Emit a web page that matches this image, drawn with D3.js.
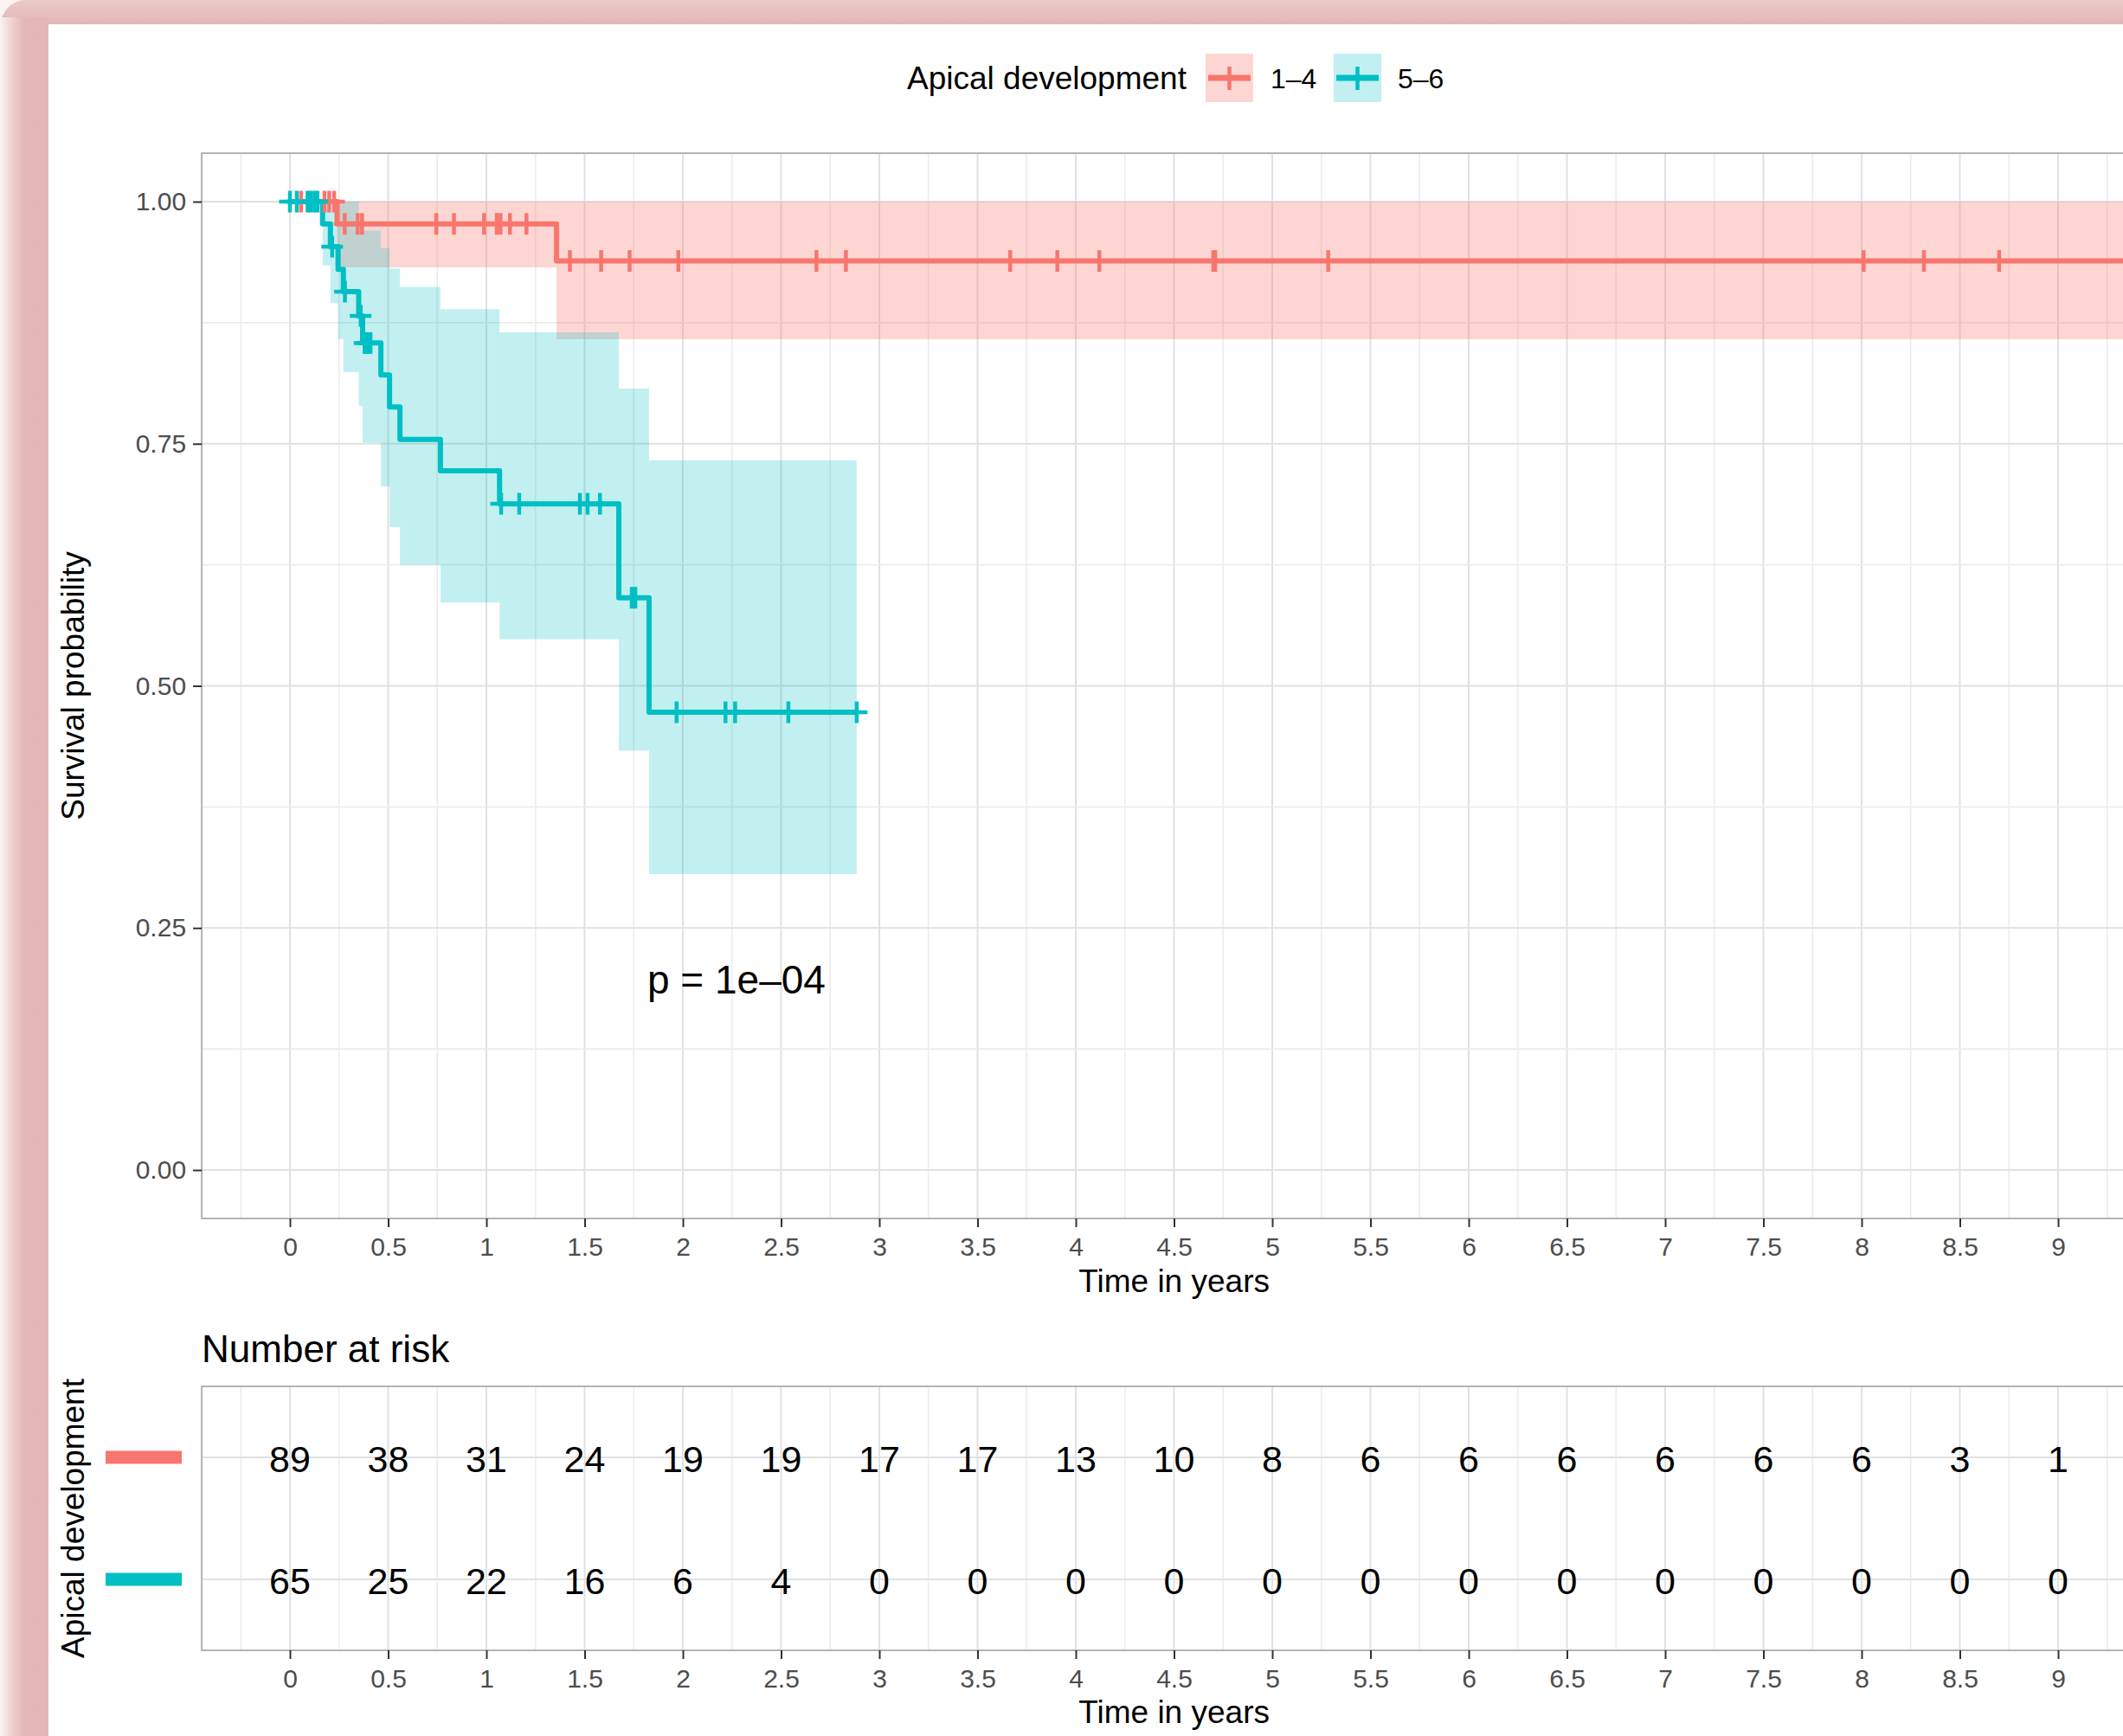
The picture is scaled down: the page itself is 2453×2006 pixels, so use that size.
<!DOCTYPE html>
<html>
<head>
<meta charset="utf-8">
<script src="https://cdn.jsdelivr.net/npm/d3@7"></script>
<style>
  html, body { margin: 0; padding: 0; background: #ffffff; overflow: hidden; }
  svg { display: block; }
  text { font-family: "Liberation Sans", Arial, Helvetica, sans-serif; }
</style>
</head>
<body>
<svg id="chart" width="2453" height="2006"></svg>
<script>
// ---------------- DATA ----------------
const groupLabels = ["1–4", "5–6"];
const groupColors = ["#F8766D", "#00BFC4"];
const legendTitle = "Apical development";
const pValueText = "p = 1e–04";

const timeBreaks = [0, 0.5, 1, 1.5, 2, 2.5, 3, 3.5, 4, 4.5, 5, 5.5, 6, 6.5, 7, 7.5, 8, 8.5, 9];
const timeLabels = ["0", "0.5", "1", "1.5", "2", "2.5", "3", "3.5", "4", "4.5", "5", "5.5", "6", "6.5", "7", "7.5", "8", "8.5", "9"];
const survTicks = [0, 0.25, 0.5, 0.75, 1];
const survLabels = ["0.00", "0.25", "0.50", "0.75", "1.00"];

// Group 1–4 (red)
const redEventTimes = [0.24, 1.357];
const redSurv       = [0.977, 0.9387];
const redLower      = [0.932, 0.858];
const redUpper      = [1.0, 1.0];
const redEndTime    = 9.45;
const redCensorTimes = [0.057, 0.176, 0.2, 0.225,
  0.279, 0.345, 0.367, 0.745, 0.835, 0.988, 1.053, 1.072, 1.12, 1.204,
  1.425, 1.584, 1.729, 1.977, 2.68, 2.83, 3.666, 3.906, 4.12, 4.70, 4.71, 5.285, 8.01, 8.317, 8.70];

// Group 5–6 (teal)
const tealEventTimes = [0.166, 0.206, 0.245, 0.272, 0.35, 0.37, 0.463, 0.507, 0.56, 0.766, 1.067, 1.674, 1.828];
const tealSurv       = [0.977, 0.9535, 0.930, 0.907, 0.882, 0.854, 0.821, 0.788, 0.7545, 0.722, 0.688, 0.591, 0.4727];
const tealLower      = [0.934, 0.895, 0.858, 0.824, 0.789, 0.751, 0.706, 0.664, 0.625, 0.586, 0.548, 0.433, 0.3056];
const tealUpper      = [1, 1, 1, 1, 0.97, 0.97, 0.952, 0.931, 0.912, 0.889, 0.865, 0.807, 0.733];
const tealEndTime    = 2.885;
const tealCensorTimes = [0, 0.035, 0.09, 0.105, 0.125, 0.14, 0.215, 0.28, 0.36, 0.38, 0.395, 0.41,
  1.075, 1.167, 1.476, 1.515, 1.578, 1.74, 1.758, 1.968, 2.217, 2.266, 2.537, 2.885];

// Number at risk
const riskRed  = [89, 38, 31, 24, 19, 19, 17, 17, 13, 10, 8, 6, 6, 6, 6, 6, 6, 3, 1];
const riskTeal = [65, 25, 22, 16, 6, 4, 0, 0, 0, 0, 0, 0, 0, 0, 0, 0, 0, 0, 0];

// ---------------- BUILD ----------------
const svg = d3.select("#chart");
const W = 2453, H = 2006;
const FONT = '"Liberation Sans", Arial, Helvetica, sans-serif';
const fillOpacity = [0.3, 0.24];

const defs = svg.append("defs");
// background frame (screenshot edge)
const gL = defs.append("linearGradient").attr("id", "gl").attr("x1", 0).attr("x2", 1).attr("y1", 0).attr("y2", 0);
gL.append("stop").attr("offset", "0%").attr("stop-color", "#fbf3f3");
gL.append("stop").attr("offset", "30%").attr("stop-color", "#eacaca");
gL.append("stop").attr("offset", "50%").attr("stop-color", "#e4b8b8");
gL.append("stop").attr("offset", "100%").attr("stop-color", "#e3b6b6");
const gT = defs.append("linearGradient").attr("id", "gt").attr("x1", 0).attr("x2", 0).attr("y1", 0).attr("y2", 1);
gT.append("stop").attr("offset", "0%").attr("stop-color", "#ebcaca");
gT.append("stop").attr("offset", "100%").attr("stop-color", "#e3b5b5");

svg.append("rect").attr("width", W).attr("height", H).attr("fill", "#ffffff");
svg.append("rect").attr("x", 0).attr("y", 0).attr("width", W).attr("height", 28).attr("fill", "url(#gt)");
svg.append("rect").attr("x", 0).attr("y", 20).attr("width", 56).attr("height", H - 20).attr("fill", "url(#gl)");
svg.append("path").attr("d", "M0,0 L26,0 Q6,4 0,26 Z").attr("fill", "#fbf3f3");

// scales
const x = d3.scaleLinear().domain([0, 9]).range([335, 2378]);
const panelL = x(-0.449), panelR = x(9.45);
const y = d3.scaleLinear().domain([0, 1]).range([1352, 233]);
const mainTop = y(1.05), mainBot = y(-0.05);

defs.append("clipPath").attr("id", "clipMain").append("rect")
  .attr("x", panelL).attr("y", mainTop).attr("width", panelR - panelL).attr("height", mainBot - mainTop);

const majorX = d3.range(0, 9.51, 0.5);
const minorX = d3.range(-0.25, 9.5, 0.5);

function vGrid(g, top, bot) {
  g.selectAll(".vmin").data(minorX).join("line")
    .attr("x1", d => x(d)).attr("x2", d => x(d)).attr("y1", top).attr("y2", bot)
    .attr("stroke", "#ececec").attr("stroke-width", 1.6);
  g.selectAll(".vmaj").data(majorX).join("line").attr("class", "vmaj")
    .attr("x1", d => x(d)).attr("x2", d => x(d)).attr("y1", top).attr("y2", bot)
    .attr("stroke", "#e1e1e1").attr("stroke-width", 2);
}

// ---------- main panel ----------
const main = svg.append("g");
const grid = main.append("g").attr("clip-path", "url(#clipMain)");
vGrid(grid, mainTop, mainBot);
grid.selectAll(".hmin").data([0.125, 0.375, 0.625, 0.875]).join("line").attr("class", "hmin")
  .attr("x1", panelL).attr("x2", panelR).attr("y1", d => y(d)).attr("y2", d => y(d))
  .attr("stroke", "#ececec").attr("stroke-width", 1.6);
grid.selectAll(".hmaj").data(survTicks).join("line").attr("class", "hmaj")
  .attr("x1", panelL).attr("x2", panelR).attr("y1", d => y(d)).attr("y2", d => y(d))
  .attr("stroke", "#e1e1e1").attr("stroke-width", 2);

function buildSeries(times, surv, lo, hi, endT) {
  const pts = [{t: 0, s: 1, lo: 1, hi: 1}];
  times.forEach((t, i) => pts.push({t, s: surv[i], lo: lo[i], hi: hi[i]}));
  const last = pts[pts.length - 1];
  pts.push({t: endT, s: last.s, lo: last.lo, hi: last.hi});
  return pts;
}
function survAt(pts, t) {
  let s = 1;
  for (const p of pts) { if (p.t <= t) s = p.s; }
  return s;
}

const series = [
  {pts: buildSeries(redEventTimes, redSurv, redLower, redUpper, redEndTime), cens: redCensorTimes, color: groupColors[0], op: fillOpacity[0]},
  {pts: buildSeries(tealEventTimes, tealSurv, tealLower, tealUpper, tealEndTime), cens: tealCensorTimes, color: groupColors[1], op: fillOpacity[1]}
];

const plotG = main.append("g").attr("clip-path", "url(#clipMain)");
const area = d3.area().curve(d3.curveStepAfter).x(d => x(d.t)).y0(d => y(d.lo)).y1(d => y(d.hi));
const line = d3.line().curve(d3.curveStepAfter).x(d => x(d.t)).y(d => y(d.s));

series.forEach(sr => {
  plotG.append("path").datum(sr.pts).attr("d", area)
    .attr("fill", sr.color).attr("fill-opacity", sr.op).attr("stroke", "none");
});
series.forEach(sr => {
  plotG.append("path").datum(sr.pts).attr("d", line)
    .attr("fill", "none").attr("stroke", sr.color).attr("stroke-width", 6).attr("stroke-linejoin", "round");
});
series.forEach(sr => {
  const cg = plotG.append("g");
  sr.cens.forEach(t => {
    const cx = x(t), cy = y(survAt(sr.pts, t));
    cg.append("line").attr("x1", cx - 12.5).attr("x2", cx + 12.5).attr("y1", cy).attr("y2", cy)
      .attr("stroke", sr.color).attr("stroke-width", 4.5);
    cg.append("line").attr("x1", cx).attr("x2", cx).attr("y1", cy - 12.5).attr("y2", cy + 12.5)
      .attr("stroke", sr.color).attr("stroke-width", 4.5);
  });
});

// p value
main.append("text").attr("x", 748).attr("y", 1148).attr("font-size", 46).attr("fill", "#000")
  .text(pValueText);

// border
main.append("rect").attr("x", panelL).attr("y", mainTop).attr("width", panelR - panelL).attr("height", mainBot - mainTop)
  .attr("fill", "none").attr("stroke", "#b3b3b3").attr("stroke-width", 2);

// axes
function styleAxis(g, size) {
  g.select(".domain").remove();
  g.selectAll(".tick line").attr("stroke", "#333333").attr("stroke-width", 2);
  g.selectAll(".tick text").attr("font-size", size).attr("fill", "#4d4d4d").attr("font-family", FONT);
}
const xAxis = d3.axisBottom(x).tickValues(timeBreaks).tickFormat((d, i) => timeLabels[i]).tickSize(10).tickPadding(11.5);
styleAxis(main.append("g").attr("transform", `translate(0,${mainBot})`).call(xAxis), 30);
const yAxis = d3.axisLeft(y).tickValues(survTicks).tickFormat((d, i) => survLabels[i]).tickSize(10).tickPadding(8);
styleAxis(main.append("g").attr("transform", `translate(${panelL},0)`).call(yAxis), 30);

main.append("text").attr("x", (panelL + panelR) / 2).attr("y", 1493).attr("text-anchor", "middle")
  .attr("font-size", 37).attr("fill", "#000").text("Time in years");
main.append("text").attr("transform", `translate(97,${(mainTop + mainBot) / 2}) rotate(-90)`)
  .attr("text-anchor", "middle").attr("font-size", 37).attr("fill", "#000").text("Survival probability");

// legend
const leg = svg.append("g");
leg.append("text").attr("x", 1048).attr("y", 103).attr("font-size", 37).attr("fill", "#000").text(legendTitle);
const legX = [1393, 1541], legLabX = [1468, 1615];
groupLabels.forEach((lab, i) => {
  leg.append("rect").attr("x", legX[i]).attr("y", 62).attr("width", 55).attr("height", 56)
    .attr("fill", groupColors[i]).attr("fill-opacity", fillOpacity[i]);
  leg.append("line").attr("x1", legX[i] + 3).attr("x2", legX[i] + 52).attr("y1", 90).attr("y2", 90)
    .attr("stroke", groupColors[i]).attr("stroke-width", 7);
  leg.append("line").attr("x1", legX[i] + 27.5).attr("x2", legX[i] + 27.5).attr("y1", 77).attr("y2", 104)
    .attr("stroke", groupColors[i]).attr("stroke-width", 4.5);
  leg.append("text").attr("x", legLabX[i]).attr("y", 101.5).attr("font-size", 32).attr("fill", "#000").text(lab);
});

// ---------- risk table ----------
const tTop = 1602, tBot = 1907;
const rowY = d3.scalePoint().domain(groupLabels).range([1684, 1825]);
defs.append("clipPath").attr("id", "clipTab").append("rect")
  .attr("x", panelL).attr("y", tTop).attr("width", panelR - panelL).attr("height", tBot - tTop);
const tab = svg.append("g");
const tgrid = tab.append("g").attr("clip-path", "url(#clipTab)");
vGrid(tgrid, tTop, tBot);
tgrid.selectAll(".hrow").data(groupLabels).join("line")
  .attr("x1", panelL).attr("x2", panelR).attr("y1", d => rowY(d)).attr("y2", d => rowY(d))
  .attr("stroke", "#e1e1e1").attr("stroke-width", 2);

const riskRows = [riskRed, riskTeal];
riskRows.forEach((row, gi) => {
  tab.append("g").selectAll("text").data(row).join("text")
    .attr("x", (d, i) => x(timeBreaks[i])).attr("y", rowY(groupLabels[gi]) + 17)
    .attr("text-anchor", "middle").attr("font-size", 43).attr("fill", "#000").text(d => d);
  tab.append("rect").attr("x", 122).attr("y", rowY(groupLabels[gi]) - 7.5).attr("width", 88).attr("height", 15)
    .attr("fill", groupColors[gi]);
});
tab.append("rect").attr("x", panelL).attr("y", tTop).attr("width", panelR - panelL).attr("height", tBot - tTop)
  .attr("fill", "none").attr("stroke", "#b3b3b3").attr("stroke-width", 2);
styleAxis(tab.append("g").attr("transform", `translate(0,${tBot})`).call(xAxis), 30);
tab.append("text").attr("x", (panelL + panelR) / 2).attr("y", 1991).attr("text-anchor", "middle")
  .attr("font-size", 37).attr("fill", "#000").text("Time in years");
tab.append("text").attr("x", panelL).attr("y", 1574).attr("font-size", 44).attr("fill", "#000").text("Number at risk");
tab.append("text").attr("transform", `translate(97,${(tTop + tBot) / 2}) rotate(-90)`)
  .attr("text-anchor", "middle").attr("font-size", 37).attr("fill", "#000").text(legendTitle);
</script>
</body>
</html>
